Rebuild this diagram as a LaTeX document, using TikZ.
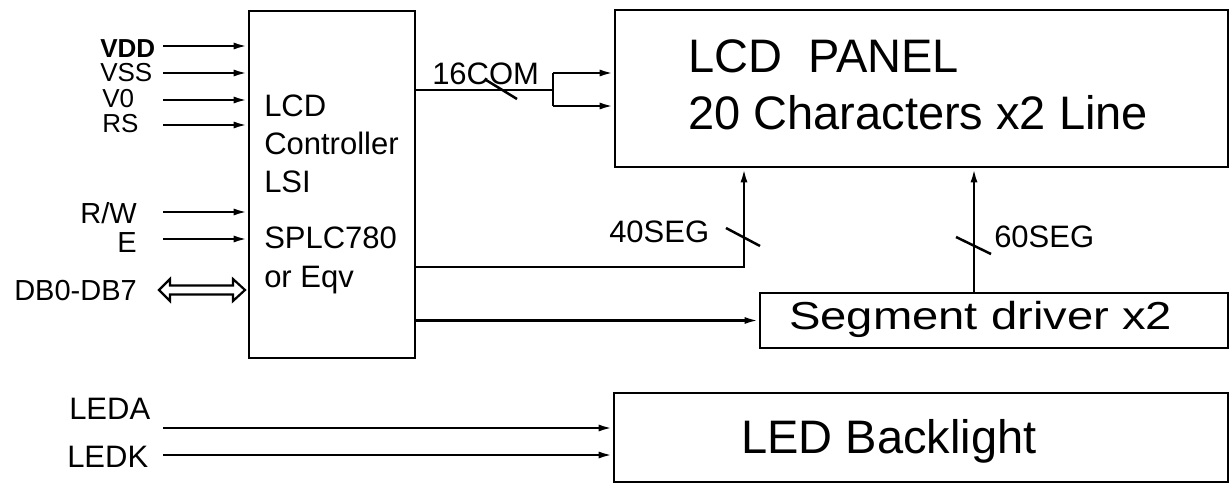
\documentclass[tikz,border=0pt]{standalone}
\usepackage{fontspec}
\setmainfont{Liberation Sans}
\usepackage{graphicx}
\usepackage{tikz}
\usetikzlibrary{arrows.meta}

\newcommand{\fsz}[1]{\fontsize{#1}{#1}\selectfont}

\begin{document}
\begin{tikzpicture}[x=1pt, y=-1pt, line width=2.5pt,
    blk/.style={draw, line width=2.7pt, inner sep=0pt},
    sig/.style={-{Latex[length=14pt,width=7pt]}},
    pin/.style={inner sep=0pt, font=\fsz{26}},
    pinb/.style={inner sep=0pt, font=\fsz{29}},
    bus/.style={inner sep=0pt, font=\fsz{31}, anchor=base west},
    ctltxt/.style={inner sep=0pt, font=\fsz{31}, anchor=base west},
    big/.style={inner sep=0pt, font=\fsz{47}, anchor=base west}]
    \useasboundingbox (0,0) rectangle (1229,484);

    % blocks
    \node[blk, minimum width=166, minimum height=347] (ctrl) at (332,184.5) {};
    \node[blk, minimum width=613, minimum height=157] (panel) at (921.5,88.5) {};
    \node[blk, minimum width=468, minimum height=55] (segdrv) at (994,320.5) {};
    \node[blk, minimum width=614, minimum height=89] (led) at (921,437.5) {};

    \foreach \t/\yy [count=\i] in {LCD/117, Controller/154, LSI/193, SPLC780/248, or Eqv/287}
        \node[ctltxt] (ct\i) at (263,\yy) {\t};
    \node[big] (ptop) at (687,73) {LCD\ \ PANEL};
    \node[big] (pbot) at (687,130) {20 Characters x2 Line};
    \node[inner sep=0pt, font=\fsz{39}, anchor=base west] (segtxt) at (788,329) {\scalebox{1.21}[1]{Segment driver x2}};
    \node[big] (ledtxt) at (740,453) {LED Backlight};

    % controller inputs
    \foreach \nm/\yy in {vdd/46, vss/73, v0/100, rs/125, rw/212, en/239}{
        \coordinate (\nm) at (163,\yy);
        \draw[sig] (\nm) -- (\nm -| ctrl.west);
    }
    \node[pin, anchor=base west] (lvdd) at (99,58) {\textbf{VDD}};
    \node[pin, anchor=base west] (lvss) at (99,82) {VSS};
    \node[pin, anchor=base west] (lv0) at (101,108) {V0};
    \node[pin, anchor=base west] (lrs) at (101,133) {RS};
    \node[pinb, anchor=base east] (lrw) at (138,223) {R/W};
    \node[pinb, anchor=base east] (len) at (138,252) {E};
    \node[pinb, anchor=base east] (ldb) at (138,300) {DB0-DB7};
    \coordinate (db) at (159,290);
    \draw[line width=2.2pt, line join=miter] (db) -- ++(11,-11) -- ++(0,6.5) -- ++(63,0)
        -- ++(0,-6.5) -- ++(12,11) -- ++(-12,11) -- ++(0,-6.5) -- ++(-63,0)
        -- ++(0,6.5) -- cycle;

    % 16COM
    \coordinate (com) at (553,90);
    \coordinate (comA) at (553,73);
    \coordinate (comB) at (553,106);
    \draw (com -| ctrl.east) -- (com);
    \draw (comA) -- (comB);
    \draw[sig] (comA) -- (comA -| panel.west);
    \draw[sig] (comB) -- (comB -| panel.west);
    \draw (486,80) -- (517,99);
    \node[bus] (l16) at (431,85) {16COM};

    % 40SEG
    \coordinate (s40) at (744,267);
    \draw[sig] (s40 -| ctrl.east) -| (s40 |- panel.south);
    \draw (726,228) -- (760,246);
    \node[bus] (l40) at (608,242) {40SEG};

    % 60SEG
    \coordinate (s60) at (974,0);
    \draw[sig] (s60 |- segdrv.north) -- (s60 |- panel.south);
    \draw (956,237) -- (991,254);
    \node[bus] (l60) at (993,247) {60SEG};

    \draw[sig] (ctrl.east |- segdrv.west) -- (segdrv.west);

    % backlight
    \coordinate (leda) at (163,428);
    \coordinate (ledk) at (163,455);
    \draw[sig] (leda) -- (leda -| led.west);
    \draw[sig] (ledk) -- (ledk -| led.west);
    \node[bus] (lleda) at (68,419) {LEDA};
    \node[bus] (lledk) at (66,467) {LEDK};
\end{tikzpicture}
\end{document}
